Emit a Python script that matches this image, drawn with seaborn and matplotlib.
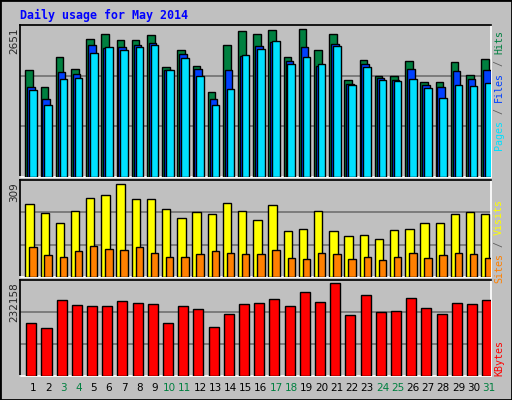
import matplotlib
matplotlib.use("Agg")
import matplotlib.pyplot as plt
import seaborn as sns
import pandas as pd
import numpy as np

days = list(range(1, 32))
weekend = [3, 4, 10, 11, 17, 18, 24, 25, 31]
hits = [1860,1564,2087,1878,2401,2488,2384,2384,2471,1913,2209,1930,1477,2297,2541,2488,
        2558,2087,2576,2209,2488,1686,2035,1756,1756,2017,1651,1651,2000,1773,2052]
files = [1564,1355,1826,1791,2297,2244,2262,2297,2331,1860,2140,1878,1355,1860,2105,2279,
         2349,2017,2262,1930,2314,1616,1965,1721,1686,1878,1599,1564,1843,1704,1860]
pages = [1512,1250,1704,1721,2157,2262,2209,2262,2297,1860,2070,1756,1250,1529,2122,2227,
         2366,1965,2087,1965,2279,1599,1913,1686,1669,1704,1547,1372,1599,1581,1634]
visits = [233,204,172,210,252,262,297,249,249,217,188,207,201,236,210,181,230,146,152,210,
          146,130,133,120,149,152,172,172,201,207,201]
sites = [94,69,65,82,98,88,85,94,75,65,65,72,82,78,72,72,85,62,56,78,72,56,65,53,65,75,
         59,69,75,72,62]
kbytes = [129000,117000,183500,171000,169000,169000,181000,176000,174000,129000,169000,
          161000,119000,149000,174000,176000,186000,169000,203000,179000,226000,146500,
          196000,154000,156000,188000,164000,149000,176000,174000,183500]
max_hits, max_visits, max_kb = 2651, 309, 232158

sns.set_theme(style="white")
plt.rcParams['font.family'] = ['DejaVu Sans']
BG = "#C0C0C0"
fig = plt.figure(figsize=(5.12, 4.0), dpi=100, facecolor=BG)
fig.patches.append(plt.Rectangle((0, 0), 1, 1, transform=fig.transFigure, fill=False,
                                 edgecolor="black", linewidth=2))
W, H = 512, 400
def mkax(top, bottom):
    return fig.add_axes([20 / W, 1 - bottom / H, 471 / W, (bottom - top) / H])

ax1 = mkax(25, 177)
ax2 = mkax(180, 277)
ax3 = mkax(280, 376)

def draw(ax, vals, off, width, color):
    df = pd.DataFrame({"x": np.array(days) + off, "y": vals})
    sns.barplot(data=df, x="x", y="y", native_scale=True, width=width, color=color,
                edgecolor="black", linewidth=1, saturation=1, ax=ax, zorder=3)

draw(ax1, hits, -0.25, 0.5, "#008040")
draw(ax1, files, -0.13, 0.5, "#0040FF")
draw(ax1, pages, 0.0, 0.5, "#00E0FF")
draw(ax2, visits, -0.23, 0.55, "#FFFF00")
draw(ax2, sites, 0.0, 0.49, "#FF8000")
draw(ax3, kbytes, -0.11, 0.66, "#FF0000")

for ax, m in [(ax1, max_hits), (ax2, max_visits), (ax3, max_kb)]:
    ax.set_facecolor(BG)
    ax.set_xlim(0.145, 31.145)
    ax.set_ylim(0, m)
    for g in (m / 3, 2 * m / 3):
        ax.axhline(g, color="#707070", linewidth=1.2, zorder=1)
    ax.set_xticks([]); ax.set_yticks([])
    ax.set_xlabel(""); ax.set_ylabel("")
    for s in ("left", "top"):
        ax.spines[s].set_color("black")
    for s in ("right", "bottom"):
        ax.spines[s].set_color("white")

ax3.set_xticks(days)
ax3.set_xticklabels([str(d) for d in days], fontsize=7.5)
ax3.tick_params(axis="x", length=0, pad=5)
for lbl, d in zip(ax3.get_xticklabels(), days):
    lbl.set_color("#008040" if d in weekend else "black")

fig.text(20 / W, 1 - 15 / H, "Daily usage for May 2014", color="#0000FF",
         family="DejaVu Sans Mono", fontweight="bold", fontsize=8.4, va="center", ha="left")

for txt, top in [(str(max_hits), 27), (str(max_visits), 182), (str(max_kb), 282)]:
    fig.text(14 / W, 1 - top / H, txt, rotation=90, fontsize=7.5, va="top", ha="center")

def side(pieces, ytop):
    k = 0
    for s, c in pieces:
        yc = ytop + 6 * (k + len(s) / 2)
        fig.text(499 / W, 1 - yc / H, s, rotation=90, color=c, family="DejaVu Sans Mono",
                 fontsize=7.2, va="center", ha="center")
        k += len(s)

side([("Hits", "#008040"), (" / ", "#606060"), ("Files", "#0040FF"), (" / ", "#606060"),
      ("Pages", "#00E0FF")], 30)
side([("Visits", "#FFFF00"), (" / ", "#606060"), ("Sites", "#FF8000")], 199)
side([("KBytes", "#FF0000")], 340)

fig.savefig("out.png", dpi=100, facecolor=BG)
